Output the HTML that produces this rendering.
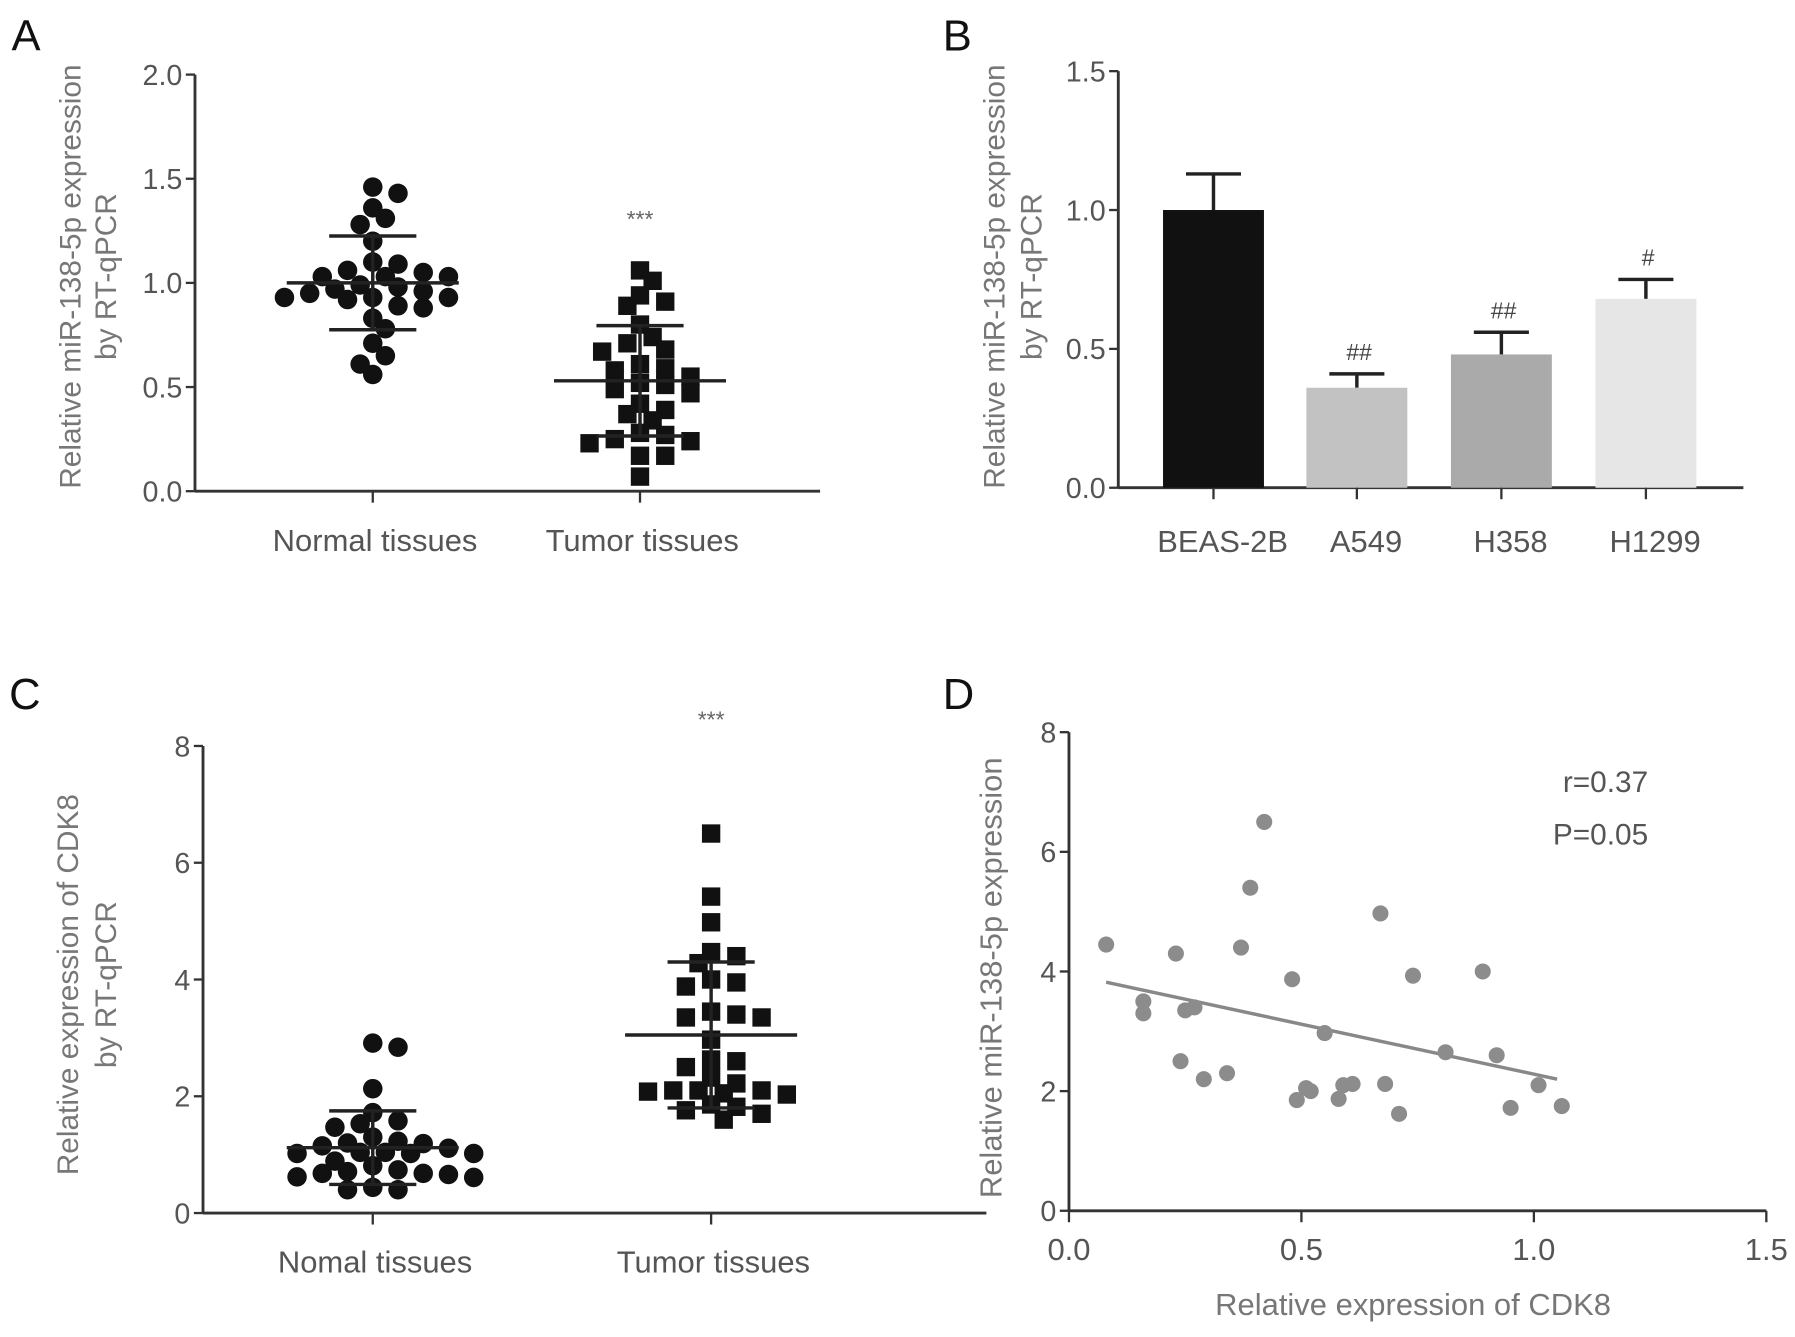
<!DOCTYPE html>
<html><head><meta charset="utf-8">
<style>
html,body{margin:0;padding:0;background:#fff;}
svg{display:block;font-family:"Liberation Sans",Arial,sans-serif;}
</style></head>
<body>
<svg id="fig" width="1795" height="1337" viewBox="0 0 1565 1165" preserveAspectRatio="none" xmlns="http://www.w3.org/2000/svg">
<rect width="1565" height="1165" fill="#fff"/>
<text x="10" y="44" font-size="38" fill="#111">A</text>
<text x="822" y="44" font-size="38" fill="#111">B</text>
<text x="8" y="618" font-size="38" fill="#111">C</text>
<text x="822" y="618" font-size="38" fill="#111">D</text>
</svg>
<script>
// ---- Panel A data ----
const aCategories = ["Normal tissues", "Tumor tissues"];
const aNormal = [1.43,1.46,1.31,1.36,1.28,1.20,1.09,1.05,1.03,1.03,1.03,1.06,1.10,0.99,0.97,0.95,0.93,0.92,0.89,0.88,0.83,0.93,0.93,0.96,0.98,0.78,0.71,0.65,0.61,0.56];
const aTumor = [1.06,1.01,0.94,0.91,0.89,0.80,0.74,0.71,0.67,0.68,0.59,0.55,0.58,0.61,0.51,0.49,0.52,0.47,0.42,0.37,0.39,0.34,0.27,0.24,0.23,0.25,0.28,0.17,0.17,0.07];
const aMean = [1.00, 0.53];
const aSD = [0.225, 0.265];
const aTicks = ["0.0","0.5","1.0","1.5","2.0"];
// ---- Panel B data ----
const bCategories = ["BEAS-2B","A549","H358","H1299"];
const bValues = [1.00, 0.36, 0.48, 0.68];
const bErrors = [0.13, 0.05, 0.08, 0.07];
const bMarks = ["", "##", "##", "#"];
const bTicks = ["0.0","0.5","1.0","1.5"];
// ---- Panel C data ----
const cCategories = ["Nomal tissues", "Tumor  tissues"];
const cNormal = [2.84,2.91,2.13,1.72,1.58,1.47,1.53,1.23,1.19,1.04,1.02,1.02,1.15,1.04,1.02,1.11,1.20,1.30,0.81,0.71,0.68,0.62,0.44,0.40,0.40,0.61,0.66,0.68,0.74,0.89];
const cTumor = [6.5,5.42,4.98,4.47,4.4,4.28,4.0,3.88,3.95,3.45,3.35,3.35,3.4,2.97,2.6,2.63,2.5,2.22,2.1,2.1,2.1,2.05,2.32,2.08,2.03,1.86,1.76,1.6,1.7,1.82];
const cMean = [1.12, 3.05];
const cSD = [0.63, 1.25];
const cTicks = ["0","2","4","6","8"];
// ---- Panel D data ----
const dX = [0.08,0.16,0.16,0.23,0.24,0.25,0.27,0.29,0.34,0.37,0.39,0.42,0.48,0.49,0.51,0.52,0.55,0.58,0.59,0.61,0.67,0.68,0.71,0.74,0.81,0.89,0.92,0.95,1.01,1.06];
const dY = [4.45,3.5,3.3,4.3,2.5,3.35,3.4,2.2,2.3,4.4,5.4,6.5,3.87,1.85,2.05,2.0,2.97,1.87,2.1,2.12,4.97,2.12,1.62,3.93,2.65,4.0,2.6,1.72,2.1,1.75];
const dLine = [[0.08, 3.82], [1.05, 2.2]];
const dXTicks = ["0.0","0.5","1.0","1.5"];
const dYTicks = ["0","2","4","6","8"];

const svg = document.getElementById('fig');
const NS = "http://www.w3.org/2000/svg";
function mk(tag, attrs, parent){ const e=document.createElementNS(NS,tag); for(const k in attrs) e.setAttribute(k,attrs[k]); (parent||svg).appendChild(e); return e; }
function txt(s, attrs, parent){ const e=mk('text',attrs,parent); e.textContent=s; return e; }
const AX = "#333", TK="#555", TT="#777";

function yAxis(g, x, y0, y1, vmin, vmax, ticks){
  const sc = v => y0 - (v - vmin)/(vmax - vmin)*(y0 - y1);
  const l = mk('line',{x1:x,y1:y0,x2:x,y2:y1,stroke:AX,'stroke-width':2.5},g);
   
  ticks.forEach(t=>{
    const v=parseFloat(t), y=sc(v);
    const tl=mk('line',{x1:x-8,y1:y,x2:x,y2:y,stroke:AX,'stroke-width':2},g);
     
    const tt=txt(t,{x:x-11,y:y+9,'font-size':25,'text-anchor':'end',fill:TK},g);
     
  });
  return sc;
}
function xAxisLine(g, x0, x1, y){
  const l=mk('line',{x1:x0,y1:y,x2:x1,y2:y,stroke:AX,'stroke-width':2.5},g);
   
}
function yTitle(g, lines, cx, cy, fs){
  lines.forEach((s,i)=>{
    const t=txt(s,{x:0,y:0,'font-size':fs||26,'text-anchor':'middle',fill:TT,transform:`translate(${cx[i]},${cy}) rotate(-90)`},g);
     
  });
}
function swarm(vals, cx, sc, d, r){
  const idx = vals.map((v,i)=>i).sort((a,b)=>vals[b]-vals[a]);
  const placed=[]; const out=new Array(vals.length);
  idx.forEach(i=>{
    const y=sc(vals[i]); let x=cx;
    for(let s=0;s<40;s++){
      const off = s===0?0:(Math.ceil(s/2)*(s%2?1:-1))*d;
      x=cx+off;
      if(!placed.some(p=>Math.hypot(p[0]-x,p[1]-y)<r*1.35)) break;
    }
    placed.push([x,y]); out[i]=[x,y];
  });
  return out;
}
function dotPanel(name, cats, sets, means, sds, ticks, vmax, geo){
  const g=mk('g',{});  
  const sc=yAxis(g, geo.ax, geo.y0, geo.y1, 0, vmax, ticks);
  xAxisLine(g, geo.ax, geo.xend, geo.y0);
  cats.forEach((c,i)=>{
    const cx=geo.cx[i];
    const tl=mk('line',{x1:cx,y1:geo.y0,x2:cx,y2:geo.y0+10,stroke:AX,'stroke-width':2},g);
     
    const lb=txt(c,{x:cx+2,y:geo.y0+52,'font-size':27,'text-anchor':'middle',fill:TK},g);
     
    const pts=swarm(sets[i], cx, sc, 11, 10);
    pts.forEach(p=>{
      let m;
      if(i===0){ m=mk('circle',{cx:p[0],cy:p[1],r:8.5,fill:'#111'},g);  }
      else { m=mk('rect',{x:p[0]-8,y:p[1]-8,width:16,height:16,fill:'#111'},g);  }
      
    });
    const my=sc(means[i]), hi=sc(means[i]+sds[i]), lo=sc(means[i]-sds[i]);
    const ml=mk('line',{x1:cx-75,y1:my,x2:cx+75,y2:my,stroke:'#222','stroke-width':3},g);
     
    const vl=mk('line',{x1:cx,y1:hi,x2:cx,y2:lo,stroke:'#222','stroke-width':3},g);
     
    [hi,lo].forEach(y=>{ const cl=mk('line',{x1:cx-38,y1:y,x2:cx+38,y2:y,stroke:'#222','stroke-width':3},g);
        });
  });
  const st=txt('***',{x:geo.cx[1],y:geo.starY,'font-size':20,'text-anchor':'middle',fill:'#666'},g);
   
  return g;
}
// Panel A
const gA=dotPanel('panel-a-chart', aCategories, [aNormal,aTumor], aMean, aSD, aTicks, 2.0,
  {ax:170,y0:428,y1:65,xend:715,cx:[325,558],starY:198});
yTitle(gA,["Relative miR-138-5p expression","by RT-qPCR"],[70,101],241);
// Panel C
const gC=dotPanel('panel-c-chart', cCategories, [cNormal,cTumor], cMean, cSD, cTicks, 8,
  {ax:177,y0:1057,y1:650,xend:860,cx:[325,620],starY:634});
yTitle(gC,["Relative expression of CDK8","by RT-qPCR"],[68,101],858);

// Panel B
(function(){
  const g=mk('g',{});  
  const ax=975,y0=425,y1=62;
  const sc=yAxis(g,ax,y0,y1,0,1.5,bTicks);
  xAxisLine(g,ax,1520,y0);
  const cxs=[1058,1183,1309,1435], fills=['#111','#c2c2c2','#aaaaaa','#e6e6e6'];
  bCategories.forEach((c,i)=>{
    const cx=cxs[i], top=sc(bValues[i]), et=sc(bValues[i]+bErrors[i]);
    const el=mk('line',{x1:cx,y1:top,x2:cx,y2:et,stroke:'#222','stroke-width':3},g);
     
    const ec=mk('line',{x1:cx-24,y1:et,x2:cx+24,y2:et,stroke:'#222','stroke-width':3},g);
     
    const b=mk('rect',{x:cx-44,y:top,width:88,height:y0-top,fill:fills[i]},g);
     
    const tl=mk('line',{x1:cx,y1:y0,x2:cx,y2:y0+10,stroke:AX,'stroke-width':2},g);
     
    const lb=txt(c,{x:cx+8,y:y0+56,'font-size':27,'text-anchor':'middle',fill:TK},g);
     
    if(bMarks[i]){ const m=txt(bMarks[i],{x:cx+2,y:et-12,'font-size':20,'text-anchor':'middle',fill:'#444'},g);
        }
  });
  yTitle(g,["Relative miR-138-5p expression","by RT-qPCR"],[876,908],241);
})();

// Panel D
(function(){
  const g=mk('g',{});  
  const ax=932,y0=1055,y1=638,x1=1540;
  const sy=yAxis(g,ax,y0,y1,0,8,dYTicks);
  const sx=v=>ax+v/1.5*(x1-ax);
  xAxisLine(g,ax,x1,y0);
  dXTicks.forEach(t=>{ const x=sx(parseFloat(t));
    const tl=mk('line',{x1:x,y1:y0,x2:x,y2:y0+10,stroke:AX,'stroke-width':2},g);
     
    const tt=txt(t,{x:x,y:y0+43,'font-size':27,'text-anchor':'middle',fill:TK},g);
     
  });
  const rl=mk('line',{x1:sx(dLine[0][0]),y1:sy(dLine[0][1]),x2:sx(dLine[1][0]),y2:sy(dLine[1][1]),stroke:'#888','stroke-width':3},g);
   
  dX.forEach((v,i)=>{ const c=mk('circle',{cx:sx(v),cy:sy(dY[i]),r:7,fill:'#8c8c8c'},g);
      });
  const xt=txt('Relative expression of CDK8',{x:1232,y:1146,'font-size':27,'text-anchor':'middle',fill:TT},g);
   
  yTitle(g,["Relative miR-138-5p expression"],[873],852,27);
  const r=txt('r=0.37',{x:1437,y:690,'font-size':26,'text-anchor':'end',fill:'#555'},g);
   
  const p=txt('P=0.05',{x:1437,y:736,'font-size':26,'text-anchor':'end',fill:'#555'},g);
   
})();
</script>
</body></html>
